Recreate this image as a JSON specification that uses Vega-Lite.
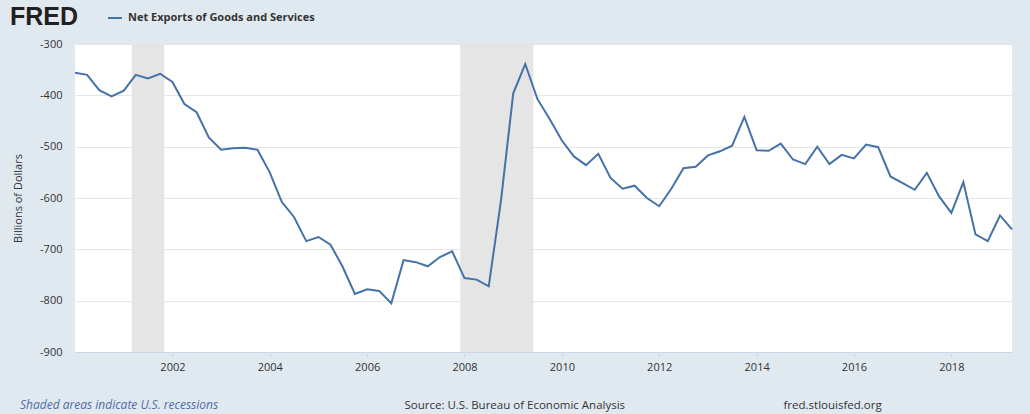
{
  "$schema": "https://vega.github.io/schema/vega-lite/v6.json",
  "width": 937,
  "height": 308,
  "autosize": {"type": "none"},
  "padding": {"left": 75, "top": 44, "right": 18, "bottom": 62},
  "background": "#e1e9f0",
  "config": {
    "view": {"fill": "white", "stroke": null},
    "font": "Open Sans"
  },
  "title": {
    "text": "Shaded areas indicate U.S. recessions",
    "orient": "bottom",
    "anchor": "start",
    "frame": "group",
    "dx": -55,
    "offset": -11,
    "fontSize": 12,
    "fontStyle": "italic",
    "fontWeight": "normal",
    "color": "#4d6da6"
  },
  "datasets": {
    "series": [
      {"date": "2000-01-01", "value": -356},
      {"date": "2000-04-01", "value": -360},
      {"date": "2000-07-01", "value": -390},
      {"date": "2000-10-01", "value": -402},
      {"date": "2001-01-01", "value": -391},
      {"date": "2001-04-01", "value": -360},
      {"date": "2001-07-01", "value": -367},
      {"date": "2001-10-01", "value": -358},
      {"date": "2002-01-01", "value": -374},
      {"date": "2002-04-01", "value": -417},
      {"date": "2002-07-01", "value": -433},
      {"date": "2002-10-01", "value": -482},
      {"date": "2003-01-01", "value": -506},
      {"date": "2003-04-01", "value": -503},
      {"date": "2003-07-01", "value": -502},
      {"date": "2003-10-01", "value": -506},
      {"date": "2004-01-01", "value": -550},
      {"date": "2004-04-01", "value": -608},
      {"date": "2004-07-01", "value": -637},
      {"date": "2004-10-01", "value": -684},
      {"date": "2005-01-01", "value": -676},
      {"date": "2005-04-01", "value": -691},
      {"date": "2005-07-01", "value": -734},
      {"date": "2005-10-01", "value": -787},
      {"date": "2006-01-01", "value": -778},
      {"date": "2006-04-01", "value": -781},
      {"date": "2006-07-01", "value": -805},
      {"date": "2006-10-01", "value": -721},
      {"date": "2007-01-01", "value": -725},
      {"date": "2007-04-01", "value": -733},
      {"date": "2007-07-01", "value": -715},
      {"date": "2007-10-01", "value": -704},
      {"date": "2008-01-01", "value": -756},
      {"date": "2008-04-01", "value": -759},
      {"date": "2008-07-01", "value": -772},
      {"date": "2008-10-01", "value": -605},
      {"date": "2009-01-01", "value": -396},
      {"date": "2009-04-01", "value": -339},
      {"date": "2009-07-01", "value": -407},
      {"date": "2009-10-01", "value": -446},
      {"date": "2010-01-01", "value": -488},
      {"date": "2010-04-01", "value": -519},
      {"date": "2010-07-01", "value": -536},
      {"date": "2010-10-01", "value": -514},
      {"date": "2011-01-01", "value": -561},
      {"date": "2011-04-01", "value": -582},
      {"date": "2011-07-01", "value": -576},
      {"date": "2011-10-01", "value": -600},
      {"date": "2012-01-01", "value": -616},
      {"date": "2012-04-01", "value": -582},
      {"date": "2012-07-01", "value": -542},
      {"date": "2012-10-01", "value": -539},
      {"date": "2013-01-01", "value": -517},
      {"date": "2013-04-01", "value": -509},
      {"date": "2013-07-01", "value": -498},
      {"date": "2013-10-01", "value": -442},
      {"date": "2014-01-01", "value": -507},
      {"date": "2014-04-01", "value": -508},
      {"date": "2014-07-01", "value": -494},
      {"date": "2014-10-01", "value": -525},
      {"date": "2015-01-01", "value": -534},
      {"date": "2015-04-01", "value": -500},
      {"date": "2015-07-01", "value": -534},
      {"date": "2015-10-01", "value": -516},
      {"date": "2016-01-01", "value": -523},
      {"date": "2016-04-01", "value": -496},
      {"date": "2016-07-01", "value": -501},
      {"date": "2016-10-01", "value": -558},
      {"date": "2017-01-01", "value": -571},
      {"date": "2017-04-01", "value": -584},
      {"date": "2017-07-01", "value": -551},
      {"date": "2017-10-01", "value": -597},
      {"date": "2018-01-01", "value": -629},
      {"date": "2018-04-01", "value": -569},
      {"date": "2018-07-01", "value": -671},
      {"date": "2018-10-01", "value": -684},
      {"date": "2019-01-01", "value": -634},
      {"date": "2019-04-01", "value": -661}
    ],
    "recessions": [
      {"start": "2001-03-01", "end": "2001-11-01"},
      {"start": "2007-12-01", "end": "2009-06-01"}
    ]
  },
  "layer": [
    {
      "data": {"name": "recessions"},
      "mark": {"type": "rect", "color": "#e5e5e5"},
      "encoding": {
        "x": {
          "field": "start",
          "type": "temporal",
          "scale": {"type": "utc", "domain": [946684800000, 1554076800000]},
          "axis": {
            "orient": "bottom",
            "title": "fred.stlouisfed.org",
            "labels": false,
            "ticks": false,
            "domain": false,
            "grid": false,
            "titleX": 708,
            "titleY": 56,
            "titleAlign": "left",
            "titleBaseline": "alphabetic",
            "titleFontSize": 11.5,
            "titleFontWeight": "normal",
            "titleColor": "#333333"
          }
        },
        "x2": {"field": "end"}
      }
    },
    {
      "data": {"name": "series"},
      "mark": {"type": "line", "color": "#4572a7", "strokeWidth": 2},
      "encoding": {
        "x": {
          "field": "date",
          "type": "temporal",
          "scale": {"type": "utc", "domain": [946684800000, 1554076800000]},
          "axis": {
            "orient": "bottom",
            "title": "Source: U.S. Bureau of Economic Analysis",
            "format": "%Y",
            "values": [
              {"year": 2002, "utc": true},
              {"year": 2004, "utc": true},
              {"year": 2006, "utc": true},
              {"year": 2008, "utc": true},
              {"year": 2010, "utc": true},
              {"year": 2012, "utc": true},
              {"year": 2014, "utc": true},
              {"year": 2016, "utc": true},
              {"year": 2018, "utc": true}
            ],
            "grid": false,
            "domainColor": "#ccd6eb",
            "tickColor": "#ccd6eb",
            "tickSize": 5,
            "labelPadding": 4,
            "labelFontSize": 11,
            "labelColor": "#333333",
            "titleX": 329,
            "titleY": 56,
            "titleAlign": "left",
            "titleBaseline": "alphabetic",
            "titleFontSize": 11.5,
            "titleFontWeight": "normal",
            "titleColor": "#333333"
          }
        },
        "y": {
          "field": "value",
          "type": "quantitative",
          "scale": {"domain": [-900, -300], "nice": false, "zero": false},
          "axis": {
            "values": [-900, -800, -700, -600, -500, -400, -300],
            "labelExpr": "'' + datum.value",
            "title": "Billions of Dollars",
            "domain": false,
            "ticks": false,
            "gridColor": "#e6e6e6",
            "labelPadding": 13,
            "labelFontSize": 11,
            "labelColor": "#333333",
            "titleFontSize": 11,
            "titleFontWeight": "normal",
            "titleColor": "#333333",
            "titleX": -57,
            "titleBaseline": "middle"
          }
        },
        "color": {
          "datum": "Net Exports of Goods and Services",
          "type": "nominal",
          "scale": {"range": ["#4572a7"]},
          "legend": {
            "orient": "none",
            "legendX": -65,
            "legendY": -34,
            "title": "FRED",
            "titleOrient": "left",
            "titleFont": "Liberation Sans",
            "titleFontSize": 25,
            "titleFontWeight": 900,
            "titleColor": "#231f20",
            "titlePadding": 28,
            "titleBaseline": "middle",
            "titleAnchor": "middle",
            "symbolType": "stroke",
            "symbolSize": 196,
            "symbolStrokeWidth": 2,
            "labelFont": "Open Sans",
            "labelFontSize": 11,
            "labelFontWeight": "bold",
            "labelColor": "#333333",
            "labelOffset": 5,
            "labelLimit": 0
          }
        }
      }
    }
  ],
  "resolve": {"axis": {"x": "independent"}}
}
